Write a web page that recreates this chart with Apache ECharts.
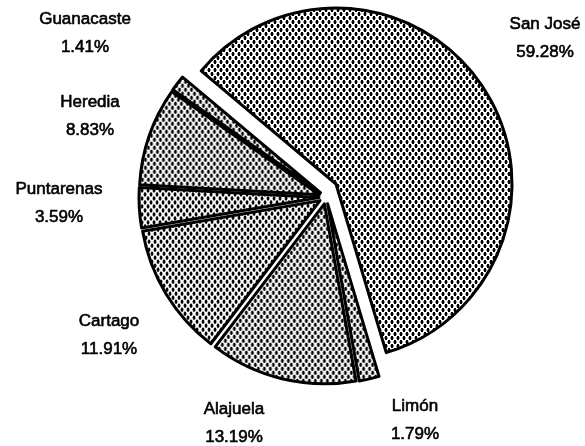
<!DOCTYPE html>
<html><head><meta charset="utf-8">
<script src="https://cdn.jsdelivr.net/npm/echarts@6/dist/echarts.min.js"></script>
<style>html,body{margin:0;padding:0;background:#fff}#c{width:585px;height:446px}</style>
</head><body><div id="c"></div>
<script>
// ---- data ----
const provinces = ['San José', 'Limón', 'Alajuela', 'Cartago', 'Puntarenas', 'Heredia', 'Guanacaste'];
const shares = [59.28, 1.79, 13.19, 11.91, 3.59, 8.83, 1.41];
const explodedProvince = 'San José';

// ---- layout (label block centres, px) ----
const labelCenters = [[545, 38], [415, 420], [234, 423], [109, 335], [59, 203], [90, 116], [85, 33]];

function makePattern() {
  const c = document.createElement('canvas');
  c.width = 6; c.height = 8;
  const g = c.getContext('2d');
  g.fillStyle = '#fff'; g.fillRect(0, 0, 6, 8);
  // two staggered oval dots per tile
  [[1, 0], [4, 4]].forEach(([x, y]) => {
    g.fillStyle = '#000'; g.fillRect(x, y, 2, 4);
    g.fillStyle = '#999';
    g.fillRect((x + 5) % 6, y + 1, 1, 2);
    g.fillRect((x + 2) % 6, y + 1, 1, 2);
  });
  return c;
}
const pattern = { image: makePattern(), repeat: 'repeat' };

function buildData(isVisible) {
  return provinces.map((name, i) => {
    const vis = isVisible(name);
    const style = vis ? { color: pattern, borderColor: '#000', borderWidth: 3 }
                      : { color: 'rgba(0,0,0,0)', borderWidth: 0 };
    return { name, value: shares[i], selected: vis, itemStyle: style, select: { itemStyle: style } };
  });
}

const common = {
  type: 'pie', startAngle: 140, clockwise: true, silent: true, animation: false,
  selectedMode: 'multiple', label: { show: false }, labelLine: { show: false },
  emphasis: { disabled: true }
};

const labelTexts = provinces.map((name, i) => ({
  type: 'text', x: labelCenters[i][0], y: labelCenters[i][1], silent: true,
  style: {
    text: name + '\n' + shares[i].toFixed(2) + '%', fill: '#000',
    stroke: '#000', lineWidth: 0.6,
    font: '17px "Liberation Sans", Arial, sans-serif', lineHeight: 28,
    align: 'center', verticalAlign: 'middle', textAlign: 'center', textVerticalAlign: 'middle'
  }
}));

const chart = echarts.init(document.getElementById('c'), null, { renderer: 'canvas' });
chart.setOption({
  backgroundColor: '#fff',
  graphic: { elements: labelTexts },
  series: [
    Object.assign({}, common, {
      center: [336, 184], radius: 176, selectedOffset: 0,
      data: buildData(n => n === explodedProvince)
    }),
    Object.assign({}, common, {
      center: [326, 197], radius: 180, selectedOffset: 7,
      data: buildData(n => n !== explodedProvince)
    })
  ]
});
</script></body></html>
